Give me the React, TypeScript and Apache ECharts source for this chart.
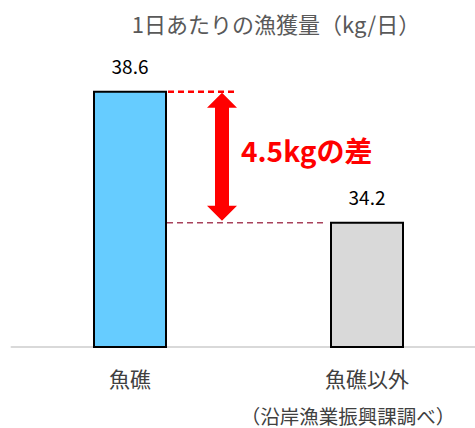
import React, { useEffect, useRef } from "react";
import * as echarts from "echarts";

const title = "1日あたりの漁獲量（kg/日）";
const categories = ["魚礁", "魚礁以外"];
const values = [38.6, 34.2];
const barColors = ["#66CCFF", "#D9D9D9"];
const diffLabel = "4.5kgの差";
const source = "（沿岸漁業振興課調べ）";
const yMin = 30;
const yMax = 40;

const FONT = "'Noto Sans CJK JP', 'Noto Sans', sans-serif";

export default function App() {
  const ref = useRef<HTMLDivElement>(null);
  useEffect(() => {
    document.body.style.margin = "0";
    const chart = echarts.init(ref.current!, null, { renderer: "svg" });
    const option: any = {
      animation: false,
      backgroundColor: "#ffffff",
      title: {
        text: title,
        left: 271,
        top: 7,
        textAlign: "center",
        textStyle: { fontFamily: FONT, fontSize: 22, fontWeight: "normal", color: "#595959" },
      },
      grid: { left: 11.5, width: 474, top: 49, height: 298 },
      xAxis: {
        type: "category",
        data: categories,
        axisLine: { show: true, lineStyle: { color: "#D9D9D9", width: 2 } },
        axisTick: { show: false },
        axisLabel: { fontFamily: FONT, fontSize: 21, color: "#404040", margin: 20 },
      },
      yAxis: {
        type: "value",
        min: yMin,
        max: yMax,
        show: false,
        splitLine: { show: false },
      },
      series: [
        {
          type: "bar",
          barWidth: 74,
          data: values.map((v, i) => ({ value: v, itemStyle: { color: barColors[i] } })),
          itemStyle: { borderColor: "#000000", borderWidth: 2 },
          label: {
            show: true,
            position: "top",
            distance: 16,
            fontFamily: FONT,
            fontSize: 19,
            color: "#000000",
          },
          z: 2,
        },
      ],
    };
    chart.setOption(option);

    const x0 = chart.convertToPixel({ xAxisIndex: 0 }, 0) as number;
    const x1 = chart.convertToPixel({ xAxisIndex: 0 }, 1) as number;
    const topY = chart.convertToPixel({ yAxisIndex: 0 }, values[0]) as number;
    const lowY = chart.convertToPixel({ yAxisIndex: 0 }, values[1]) as number;
    const bar1Right = x0 + 37;
    const bar2Left = x1 - 37;
    const ax = bar1Right + 55;
    const tipTop = topY + 2;
    const tipBot = lowY - 1;
    const headH = 15;
    const headW = 15;
    const shaftW = 7;

    chart.setOption({
      graphic: [
        {
          type: "line",
          shape: { x1: bar1Right + 1, y1: topY + 1, x2: bar1Right + 71, y2: topY + 1 },
          style: { stroke: "#FF0000", lineWidth: 2.5, lineDash: [6, 4] },
          z: 10,
        },
        {
          type: "line",
          shape: { x1: bar1Right, y1: lowY + 1, x2: bar2Left - 7, y2: lowY + 1 },
          style: { stroke: "#A8435C", lineWidth: 1.5, lineDash: [6, 4] },
          z: 10,
        },
        {
          type: "polygon",
          shape: {
            points: [
              [ax, tipTop],
              [ax + headW, tipTop + headH],
              [ax + shaftW, tipTop + headH],
              [ax + shaftW, tipBot - headH],
              [ax + headW, tipBot - headH],
              [ax, tipBot],
              [ax - headW, tipBot - headH],
              [ax - shaftW, tipBot - headH],
              [ax - shaftW, tipTop + headH],
              [ax - headW, tipTop + headH],
            ],
          },
          style: { fill: "#FF0000" },
          z: 11,
        },
        {
          type: "text",
          x: bar1Right + 74,
          y: topY + 59,
          style: {
            text: diffLabel,
            fill: "#FF0000",
            font: `bold 28px ${FONT}`,
            textAlign: "left",
            textVerticalAlign: "middle",
          },
          z: 11,
        },
        {
          type: "text",
          x: 348,
          y: 415,
          style: {
            text: source,
            fill: "#404040",
            font: `19.5px ${FONT}`,
            textAlign: "center",
            textVerticalAlign: "middle",
          },
          z: 11,
        },
      ],
    });

    return () => chart.dispose();
  }, []);
  return (
    <div style={{ width: 475, height: 428, overflow: "hidden", position: "relative" }}>
      <div ref={ref} style={{ width: 486, height: 428 }} />
    </div>
  );
}
